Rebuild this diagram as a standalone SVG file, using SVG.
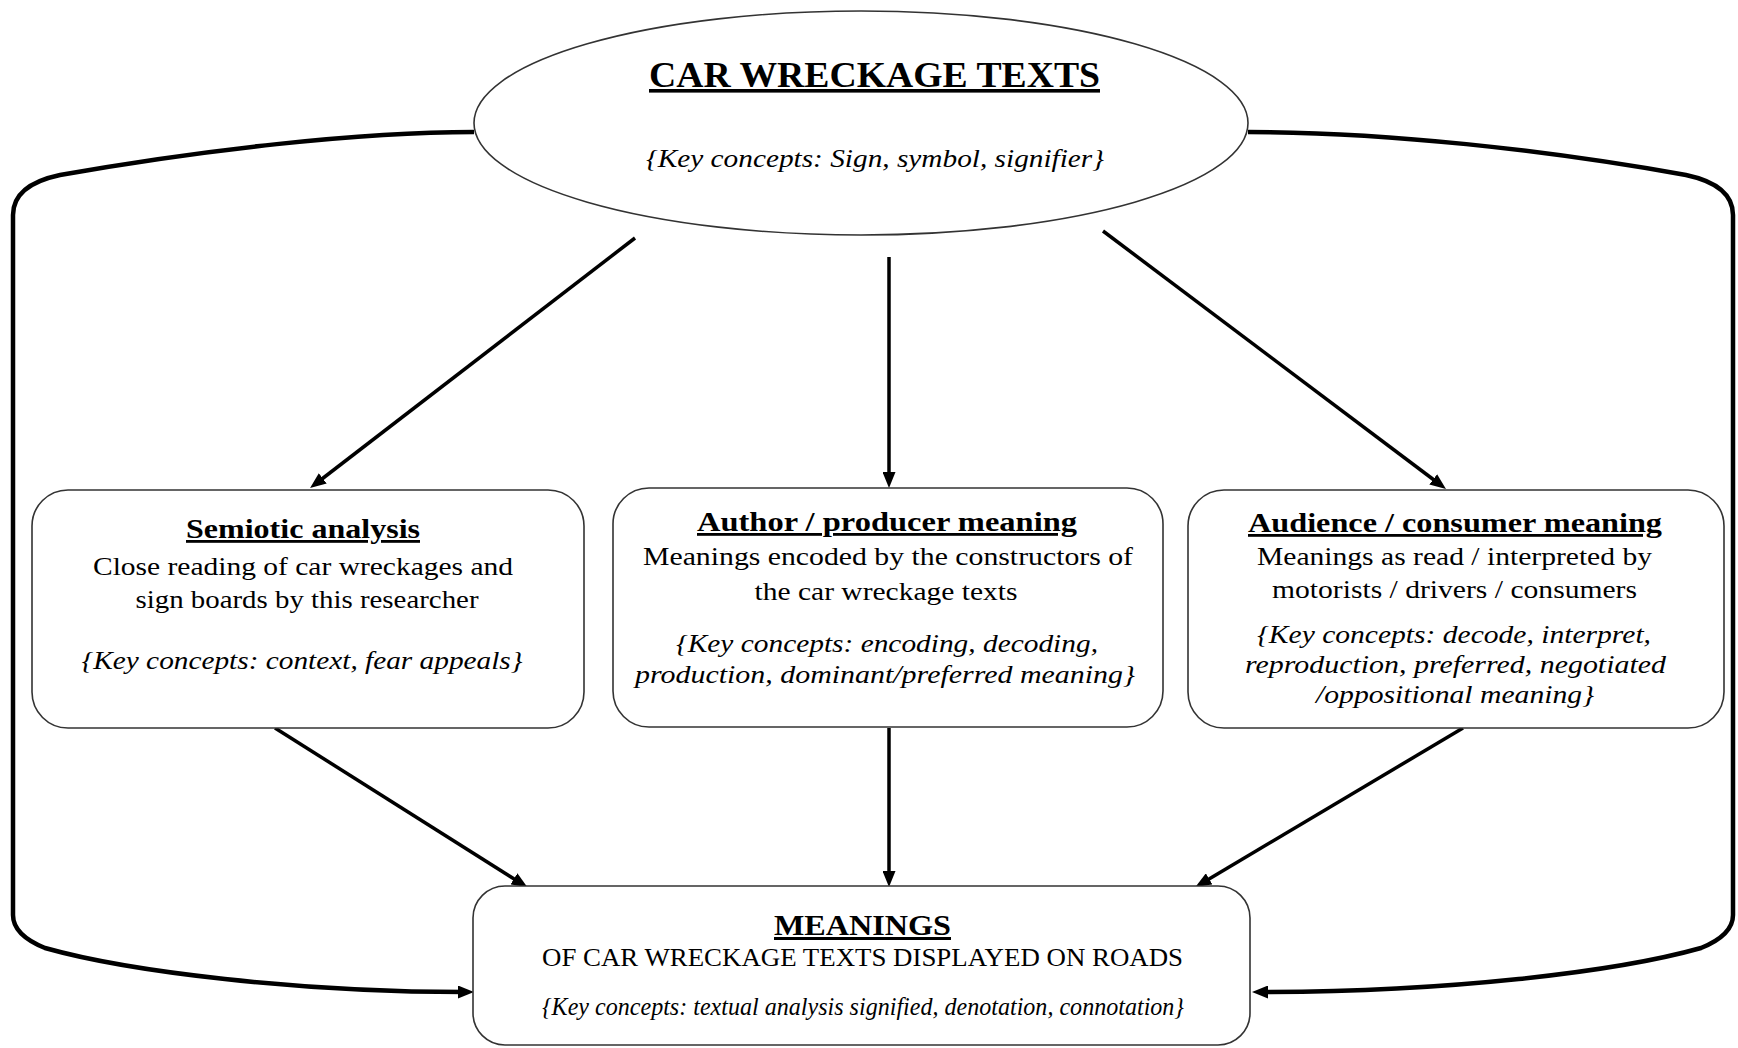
<svg xmlns="http://www.w3.org/2000/svg" width="1738" height="1048" viewBox="0 0 1738 1048">
<style>
  text { font-family: "Liberation Serif", "Times New Roman", serif; fill: #000; text-anchor: middle; }
  .h { font-weight: bold; text-decoration: underline; }
  .r { font-size: 25px; }
  .i { font-style: italic; font-size: 25px; }
  .node { fill: #fff; stroke: #333; stroke-width: 1.6; }
  .conn { fill: none; stroke: #000; stroke-width: 3.5; marker-end: url(#ah); }
  .loop { fill: none; stroke: #000; stroke-width: 4.5; marker-end: url(#ah); }
</style>
<defs>
  <marker id="ah" markerUnits="userSpaceOnUse" markerWidth="16" markerHeight="13" refX="6" refY="6.5" orient="auto">
    <path d="M0,0 L16,6.5 L0,13 z" fill="#000"/>
  </marker>
</defs>
<rect width="1738" height="1048" fill="#fff"/>

<g id="connectors">
  <path class="loop" d="M474,132 C360,132 200,150 60,175 Q13,185 13,215 L13,915 Q13,935 45,948 C130,972 300,992 464,992"/>
  <path class="loop" d="M1248,132 C1386,132 1546,150 1686,175 Q1733,185 1733,215 L1733,915 Q1733,935 1701,948 C1616,972 1446,992 1262,992"/>
  <path class="conn" d="M635,238 L318,482"/>
  <path class="conn" d="M889,257 L889,478"/>
  <path class="conn" d="M1103,231 L1438,483"/>
  <path class="conn" d="M275,728 L519,882"/>
  <path class="conn" d="M889,728 L889,877"/>
  <path class="conn" d="M1463,728 L1204,882"/>
</g>

<g id="car-wreckage-texts">
  <ellipse class="node" cx="861" cy="123" rx="387" ry="112" stroke="#444"/>
  <text class="h" x="874.5" y="87" font-size="36" textLength="451" lengthAdjust="spacingAndGlyphs">CAR WRECKAGE TEXTS</text>
  <text class="i" x="875" y="167" font-size="26" textLength="458" lengthAdjust="spacingAndGlyphs">{Key concepts: Sign, symbol, signifier}</text>
</g>

<g id="semiotic-analysis">
  <rect class="node" x="32" y="490" width="552" height="238" rx="36"/>
  <text class="h" x="303" y="538" font-size="28" textLength="234" lengthAdjust="spacingAndGlyphs">Semiotic analysis</text>
  <text class="r" x="303" y="575" textLength="420" lengthAdjust="spacingAndGlyphs">Close reading of car wreckages and</text>
  <text class="r" x="307" y="608" textLength="343" lengthAdjust="spacingAndGlyphs">sign boards by this researcher</text>
  <text class="i" x="302" y="669" textLength="441" lengthAdjust="spacingAndGlyphs">{Key concepts: context, fear appeals}</text>
</g>

<g id="author-producer-meaning">
  <rect class="node" x="613" y="488" width="550" height="239" rx="36" stroke-width="2"/>
  <text class="h" x="887" y="531" font-size="28" textLength="380" lengthAdjust="spacingAndGlyphs">Author / producer meaning</text>
  <text class="r" x="888" y="565" textLength="490" lengthAdjust="spacingAndGlyphs">Meanings encoded by the constructors of</text>
  <text class="r" x="886" y="600" textLength="263" lengthAdjust="spacingAndGlyphs">the car wreckage texts</text>
  <text class="i" x="887" y="652" textLength="422" lengthAdjust="spacingAndGlyphs">{Key concepts: encoding, decoding,</text>
  <text class="i" x="885" y="683" textLength="500" lengthAdjust="spacingAndGlyphs">production, dominant/preferred meaning}</text>
</g>

<g id="audience-consumer-meaning">
  <rect class="node" x="1188" y="490" width="536" height="238" rx="36" stroke-width="2"/>
  <text class="h" x="1455" y="532" font-size="28" textLength="414" lengthAdjust="spacingAndGlyphs">Audience / consumer meaning</text>
  <text class="r" x="1454.5" y="565" textLength="395" lengthAdjust="spacingAndGlyphs">Meanings as read / interpreted by</text>
  <text class="r" x="1454.5" y="598" textLength="365" lengthAdjust="spacingAndGlyphs">motorists / drivers / consumers</text>
  <text class="i" x="1454" y="643" textLength="394" lengthAdjust="spacingAndGlyphs">{Key concepts: decode, interpret,</text>
  <text class="i" x="1455.5" y="673" textLength="421" lengthAdjust="spacingAndGlyphs">reproduction, preferred, negotiated</text>
  <text class="i" x="1455" y="703" textLength="278" lengthAdjust="spacingAndGlyphs">/oppositional meaning}</text>
</g>

<g id="meanings">
  <rect class="node" x="473" y="886" width="777" height="159" rx="32"/>
  <text class="h" x="862.5" y="935" font-size="30" textLength="177" lengthAdjust="spacingAndGlyphs">MEANINGS</text>
  <text class="r" x="862.5" y="966" textLength="641" lengthAdjust="spacingAndGlyphs">OF CAR WRECKAGE TEXTS DISPLAYED ON ROADS</text>
  <text class="i" x="863" y="1015" font-size="21" textLength="642" lengthAdjust="spacingAndGlyphs">{Key concepts: textual analysis signified, denotation, connotation}</text>
</g>
</svg>
